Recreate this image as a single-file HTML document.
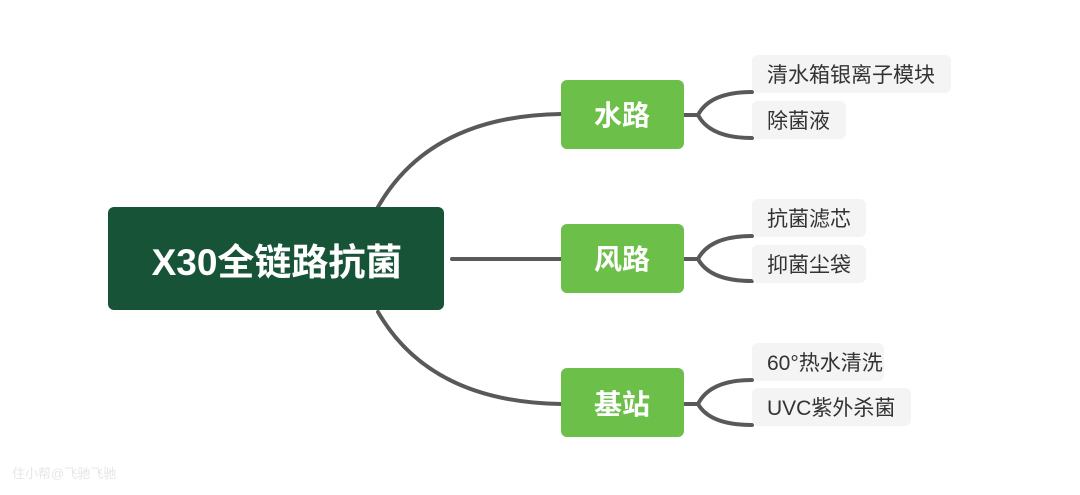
<!DOCTYPE html>
<html><head><meta charset="utf-8"><style>
html,body{margin:0;padding:0;background:#fff;}
svg{display:block;}
text{font-family:"Liberation Sans","Noto Sans CJK SC",sans-serif;}
</style></head><body>
<svg width="1080" height="495" viewBox="0 0 1080 495" xmlns="http://www.w3.org/2000/svg">
<g fill="none" stroke="#595959" stroke-width="4" stroke-linecap="round">
<path d="M378 207 Q430 116 561 114"/>
<path d="M452 259 L561 259"/>
<path d="M378 312 Q430 402 561 404"/>
<path d="M684 115 L698 115 Q710 92 752 92"/>
<path d="M698 115 Q710 138 752 138"/>
<path d="M684 259 L698 259 Q710 236 752 236"/>
<path d="M698 259 Q710 281 752 281"/>
<path d="M684 404 L698 404 Q710 380 752 380"/>
<path d="M698 404 Q710 425 752 425"/>
</g>
<rect x="108" y="207" width="336" height="103" rx="6" fill="#175437"/>
<text x="277" y="275" text-anchor="middle" fill="#fff" font-size="37" font-weight="bold">X30全链路抗菌</text>
<g fill="#6cc04a">
<rect x="561" y="80" width="123" height="69" rx="6"/>
<rect x="561" y="224" width="123" height="69" rx="6"/>
<rect x="561" y="368" width="123" height="69" rx="6"/>
</g>
<g fill="#fff" font-size="28" font-weight="bold" text-anchor="middle">
<text x="622" y="125">水路</text>
<text x="622" y="269">风路</text>
<text x="622" y="414">基站</text>
</g>
<g fill="#f4f4f4">
<rect x="752" y="55" width="199" height="38" rx="6"/>
<rect x="752" y="101" width="94" height="38" rx="6"/>
<rect x="752" y="199" width="114" height="38" rx="6"/>
<rect x="752" y="245" width="114" height="38" rx="6"/>
<rect x="752" y="343" width="132" height="38" rx="6"/>
<rect x="752" y="388" width="159" height="38" rx="6"/>
</g>
<g fill="#333" font-size="21">
<text x="767" y="82">清水箱银离子模块</text>
<text x="767" y="128">除菌液</text>
<text x="767" y="226">抗菌滤芯</text>
<text x="767" y="272">抑菌尘袋</text>
<text x="767" y="370">60°热水清洗</text>
<text x="767" y="415">UVC紫外杀菌</text>
</g>
<text x="12" y="478" fill="#e6e6e6" font-size="13">住小帮@飞驰飞驰</text>
</svg>
</body></html>
